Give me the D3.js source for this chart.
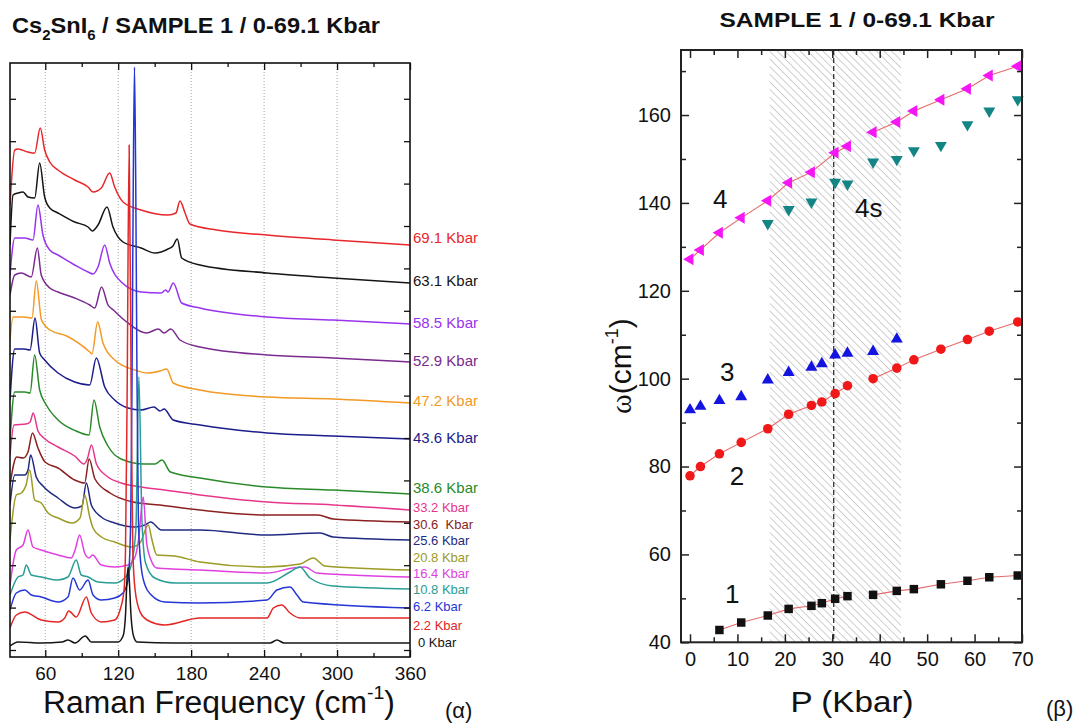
<!DOCTYPE html>
<html><head><meta charset="utf-8">
<script src="https://cdn.jsdelivr.net/npm/d3@7"></script>
<style>
body{margin:0;background:#fff;}
svg{display:block;}
text{font-family:"Liberation Sans",Arial,sans-serif;}
</style>
</head><body>
<svg id="c" width="1089" height="726"></svg>
<script>
// ---------------- DATA: panel (α) Raman spectra [frequency cm-1, intensity a.u. incl. stacking offset] -------------
const spec_69_1 = [[31,445],[34.9,500],[37.6,501],[45.8,498],[51.3,497],[55.9,522],[59.5,500],[63.7,488],[70.5,480],[84.2,470],[95.2,463],[99.3,458],[106.1,462],[113,477],[117.1,463],[124,448],[138.8,440],[161,435],[167.5,437],[170.8,449],[175,437],[179,426],[201,420],[242.4,415],[296.7,410],[360,405]];
const spec_63_1 = [[31,405],[33.5,455],[37.6,457],[41.7,458],[45.8,453],[51.3,452],[55.4,487],[59.5,453],[63.7,442],[70.5,437],[84.2,428],[95.2,423],[98.7,419],[103.4,425],[110.8,443],[115.7,423],[124,408],[138.8,402],[150.3,397],[161,401],[165,404],[168.6,411],[172.2,392],[187.3,385],[242.4,377],[296.7,372],[360,367]];
const spec_58_5 = [[31,375],[34.9,412],[43.1,412],[49.9,410],[54,445],[58.1,415],[63.7,400],[70.5,395],[84.2,385],[95.2,378],[99.3,376],[103.4,383],[108.9,405],[113,387],[122.5,368],[139,358],[155.4,357],[159,360],[161,358],[165.3,367],[172.2,347],[187.3,342],[242.4,333],[296.7,330],[360,326]];
const spec_52_9 = [[31,355],[34.9,375],[40.3,377],[48.5,373],[53.5,402],[56.7,375],[63.7,362],[70.5,358],[84.2,352],[96.6,345],[100.7,342],[106.3,363],[111.6,345],[116,340],[127,328],[143.4,317],[153,321],[157.7,317],[163.2,321],[170.8,310],[187.3,303],[242.4,295],[296.7,292],[360,288]];
const spec_47_2 = [[31,310],[33.5,333],[42.5,333],[49.1,332],[52.6,369],[56.9,330],[63.9,320],[77.6,314],[96.6,298],[98.4,296],[103.1,328],[107.5,307],[117.1,290],[133.6,280],[144.5,277],[154.4,279],[159.9,281],[165.3,267],[187.3,260],[242.4,253],[296.7,251],[360,247]];
const spec_43_6 = [[31,250],[34.9,301],[42.5,301],[47.5,300],[51.6,332],[55.4,297],[59.5,290],[70.5,277],[84.2,268],[96.6,265],[102,292],[108.9,263],[117.1,250],[128.1,242],[138.8,240],[149.4,243],[154.4,239],[157.7,241],[165.3,230],[187.3,225],[242.4,217],[296.7,214],[360,211]];
const spec_38_6 = [[31,210],[34.9,258],[43.1,258],[47.5,257],[51.3,295],[55.4,260],[60.9,245],[70.5,230],[85.3,219],[96,215],[100.1,250],[104.8,223],[111.6,204],[122.3,191],[141.2,186],[150.3,186],[156,190],[163,178],[187.3,172],[242.4,163],[296.7,160],[360,156]];
const spec_33_2 = [[31,195],[34.3,225],[44.2,226],[47.5,228],[50.1,237],[54,219],[59.8,211],[70.5,203],[84.2,194],[91.9,186],[94.6,191],[98,205],[102.1,186],[111.6,173],[122.5,167],[139,163],[158.2,160],[187.3,155],[242.4,148],[296.7,145],[360,140]];
const spec_30_6 = [[31,165],[36.5,193],[41.9,192],[45.8,198],[49.5,217],[54,202],[59.8,188],[70.5,182],[84.2,170],[92.4,167],[96.1,191],[100.9,171],[113.3,157],[132.4,148],[154.4,145],[187.3,140],[242.4,135],[284.3,135],[296.7,131],[360,128]];
const spec_25_6 = [[31,145],[34.9,175],[43.1,175],[45.8,180],[48,195],[52.6,173],[58.1,164],[70.5,152],[84.2,142],[90.2,144],[93.8,167],[97.9,145],[106.1,133],[117.1,127],[133.6,123],[142,125],[146.7,128],[155.5,120],[187.3,120],[242.4,115],[286,117],[296.7,113],[360,110]];
const spec_20_8 = [[31,110],[36.2,155],[40.3,157],[44.2,165],[47.2,180],[51.3,150],[56.7,147],[62.3,137],[70.5,132],[82,127],[88.6,132],[92.4,155],[96.6,133],[99.3,122],[106.1,113],[117.1,108],[130.8,103],[137.9,107],[144.7,125],[147.8,110],[151.7,95],[166.5,94],[187.3,88],[242.4,83],[269.5,86],[280.5,92],[290,84],[360,80]];
const spec_16_4 = [[31,65],[36.2,100],[41.7,105],[45.8,120],[49.9,103],[56.7,100],[70.5,95],[81.4,92],[84.5,100],[88.3,115],[92.4,97],[96,92],[98.9,95],[106.1,85],[117.1,83],[128.1,85],[133.8,93],[136.7,110],[140.6,153],[143.4,107],[147,90],[151.7,82],[187.3,80],[242.4,77],[264,82],[273.6,83],[283.3,77],[360,73]];
const spec_10_8 = [[31,55],[37.6,73],[41.7,75],[44.4,85],[48.5,75],[56.7,73],[70.5,70],[78.7,73],[85.5,90],[89.6,75],[95.2,73],[103.4,68],[117.1,67],[125.3,72],[130.5,84],[134.5,120],[137,273],[139.5,130],[142.5,87],[150,72],[166.5,67],[187.3,67],[242.4,67],[261.3,78],[269.5,83],[277.7,72],[296.7,64],[360,61]];
const spec_6_2 = [[31,40],[36.2,57],[43.1,60],[48.5,55],[56.7,53],[70.5,48],[78.7,53],[82.8,72],[88.3,60],[95.2,70],[99.3,55],[106.1,50],[117.1,52],[124,57],[128.1,70],[130.3,130],[131.4,280],[132.4,470],[133.4,583],[134.4,470],[135.4,280],[136.6,130],[138.7,85],[142,65],[147.2,55],[158.2,48],[187.3,47],[242.4,50],[250.6,60],[261.3,63],[267,55],[272.3,48],[360,42]];
const spec_2_2 = [[31,22],[36.2,35],[43.1,38],[56.7,30],[70.5,28],[76,32],[79.3,39],[85.5,33],[93.8,53],[97.9,37],[106.1,28],[117.1,30],[121.5,40],[124.8,60],[126,100],[127.3,250],[129,505],[130.7,250],[132,100],[133.9,60],[138,38],[143.7,30],[158.2,25],[187.3,32],[242.4,32],[247.6,42],[254.5,45],[261.3,37],[269.5,32],[360,32]];
const spec_0 = [[31,4],[37.6,8],[56.7,7],[73.8,8],[78.7,10],[84.5,7],[92.9,14],[97.9,8],[119.8,8],[124,14],[126,35],[127.2,70],[128.1,83],[129.1,70],[130.5,35],[132.6,14],[135.5,8],[166.5,7],[244.9,7],[250.6,10],[256.4,7],[360,7]];

const spectra = [spec_69_1,spec_63_1,spec_58_5,spec_52_9,spec_47_2,spec_43_6,spec_38_6,spec_33_2,spec_30_6,spec_25_6,spec_20_8,spec_16_4,spec_10_8,spec_6_2,spec_2_2,spec_0];
const pressureLabels = ["69.1 Kbar","63.1 Kbar","58.5 Kbar","52.9 Kbar","47.2 Kbar","43.6 Kbar","38.6 Kbar","33.2 Kbar","30.6  Kbar","25.6 Kbar","20.8 Kbar","16.4 Kbar","10.8 Kbar","6.2 Kbar","2.2 Kbar","0 Kbar"];
const labelLevels = [412,369,327,289,249,212,162,143,126,110,93,77,61,44,25,8];
const freqTicksMajor = [60,120,180,240,300,360];
const freqTicksMinor = [90,150,210,270,330];
const freqGrid = [60,120,180,240,300];

// ---------------- DATA: panel (β) mode frequencies vs pressure -------------
const P_mode1 = [6.2,10.8,16.4,20.8,25.6,27.8,30.6,33.2,38.6,43.6,47.2,52.9,58.5,63.1,69.1];
const w_mode1 = [42.8,44.5,46.1,47.6,48.3,48.9,49.9,50.5,50.8,51.7,52.1,53.2,54.0,54.8,55.2];
const P_mode2 = [0,2.2,6.2,10.8,16.4,20.8,25.6,27.8,30.6,33.2,38.6,43.6,47.2,52.9,58.5,63.1,69.1];
const w_mode2 = [77.9,80.0,82.9,85.5,88.6,91.9,93.9,94.7,96.6,98.4,100.0,102.4,104.3,106.7,108.9,110.8,112.9];
const P_mode3 = [0,2.2,6.2,10.8,16.4,20.8,25.6,27.8,30.6,33.2,38.6,43.6];
const w_mode3 = [92.9,93.7,95.0,95.9,99.7,101.4,102.6,103.4,105.4,105.8,106.2,109.0];
const P_mode4 = [0,2.2,6.2,10.8,16.4,20.8,25.6,30.6,33.2,38.6,43.6,47.2,52.9,58.5,63.1,69.1];
const w_mode4 = [127.2,129.3,133.2,136.6,140.5,144.6,147.0,151.4,152.9,156.1,158.4,160.9,163.5,166.0,169.0,171.1];
const P_mode4s = [16.4,20.8,25.6,30.6,33.2,38.6,43.6,47.2,52.9,58.5,63.1,69.1];
const w_mode4s = [135.3,138.5,140.2,144.7,144.3,149.3,149.9,151.9,153.1,157.8,160.9,163.5];
const transitionRange = [16.8,44.5];
const transitionP = 30.3;
const fitBreak = 35;
const pTicks = [0,10,20,30,40,50,60,70];
const pMinor = [5,15,25,35,45,55,65];
const wTicks = [40,60,80,100,120,140,160];
const wMinor = [50,70,90,110,130,150,170];
const annoText = ["4","4s","3","2","1"];
const annoAt = [[4.85,138.8],[34.8,136.9],[6.3,99.5],[8.4,75.8],[7.4,48.9]];

// ---------------- STYLES -------------
const specColors = ["#e8262b","#151515","#9933ee","#7a2b8e","#f39a26","#1c1c8c","#2a8a2a","#e6358b","#8b2020","#1f2a80","#9b9b25","#e040e0","#2a9d94","#2436d6","#e32626","#151515"];
const ink = "#111";

const svg = d3.select("#c");

// ================= Panel (α) =================
const xL = d3.scaleLinear().domain([31,360]).range([10,410]);
const yL = d3.scaleLinear().domain([-7,587]).range([657,63]);

const defs = svg.append("defs");
defs.append("clipPath").attr("id","clipL")
  .append("rect").attr("x",xL(31)).attr("y",yL(587)).attr("width",xL(360)-xL(31)).attr("height",yL(-7)-yL(587));

// grid
svg.append("g").selectAll("line").data(freqGrid).join("line")
  .attr("x1",d=>xL(d)).attr("x2",d=>xL(d)).attr("y1",yL(587)).attr("y2",yL(-7))
  .attr("stroke","#9a9a9a").attr("stroke-width",0.9).attr("stroke-dasharray","1,2");

// spectra
const lineL = d3.line().x(d=>xL(d[0])).y(d=>yL(d[1])).curve(d3.curveMonotoneX);
svg.append("g").attr("clip-path","url(#clipL)").selectAll("path").data(spectra).join("path")
  .attr("d",lineL).attr("fill","none").attr("stroke",(d,i)=>specColors[i]).attr("stroke-width",1.5).attr("stroke-linejoin","round");

// axes (α)
const intensityTicks = d3.range(0,587,42.4);
function styleAxis(g){ g.select(".domain").remove(); g.selectAll(".tick line").attr("stroke",ink).attr("stroke-width",1.3); }
svg.append("g").attr("transform",`translate(0,${yL(-7)})`)
  .call(d3.axisBottom(xL).tickValues(freqTicksMajor).tickSize(-7).tickPadding(10).tickFormat(d3.format("d")))
  .call(styleAxis).call(g=>g.selectAll("text").attr("font-size",19).attr("font-family","Liberation Sans, Arial, sans-serif").style("fill",ink));
svg.append("g").attr("transform",`translate(0,${yL(-7)})`)
  .call(d3.axisBottom(xL).tickValues(freqTicksMinor).tickSize(-4).tickFormat("")).call(styleAxis);
svg.append("g").attr("transform",`translate(0,${yL(587)})`)
  .call(d3.axisTop(xL).tickValues(freqTicksMajor).tickSize(-7).tickFormat("")).call(styleAxis);
svg.append("g").attr("transform",`translate(0,${yL(587)})`)
  .call(d3.axisTop(xL).tickValues(freqTicksMinor).tickSize(-4).tickFormat("")).call(styleAxis);
svg.append("g").attr("transform",`translate(${xL(31)},0)`)
  .call(d3.axisLeft(yL).tickValues(intensityTicks).tickSize(-6).tickFormat("")).call(styleAxis);
svg.append("g").attr("transform",`translate(${xL(360)},0)`)
  .call(d3.axisRight(yL).tickValues(intensityTicks).tickSize(-6).tickFormat("")).call(styleAxis);

svg.append("rect").attr("x",xL(31)).attr("y",yL(587)).attr("width",xL(360)-xL(31)).attr("height",yL(-7)-yL(587))
  .attr("fill","none").attr("stroke",ink).attr("stroke-width",1.6);

// pressure labels
svg.append("g").selectAll("text").data(pressureLabels).join("text")
  .attr("x",(d,i)=>xL(360)+(i===15?8:3))
  .attr("y",(d,i)=>yL(labelLevels[i]))
  .attr("dy","0.35em")
  .attr("font-size",(d,i)=>i<7?15:13)
  .style("fill",(d,i)=>specColors[i])
  .style("white-space","pre")
  .text(d=>d);

// title (α)
const tL = svg.append("text").attr("x",12).attr("y",33).attr("font-size",22).attr("font-weight","bold").style("fill",ink)
  .attr("textLength",368).attr("lengthAdjust","spacingAndGlyphs");
tL.append("tspan").text("Cs");
tL.append("tspan").attr("font-size",14).attr("dy",7).text("2");
tL.append("tspan").attr("dy",-7).text("SnI");
tL.append("tspan").attr("font-size",14).attr("dy",7).text("6");
tL.append("tspan").attr("dy",-7).text(" / SAMPLE 1 / 0-69.1 Kbar");

// x title (α)
const xtL = svg.append("text").attr("x",43).attr("y",713).attr("font-size",31).style("fill",ink)
  .attr("textLength",352).attr("lengthAdjust","spacingAndGlyphs");
xtL.append("tspan").text("Raman Frequency (cm");
xtL.append("tspan").attr("font-size",19).attr("dy",-14).text("-1");
xtL.append("tspan").attr("dy",14).text(")");

svg.append("text").attr("x",445).attr("y",718).attr("font-size",22).style("fill",ink)
  .attr("font-family","Noto Sans, DejaVu Sans, sans-serif").text("(α)");

// ================= Panel (β) =================
const xR = d3.scaleLinear().domain([-1.9,70]).range([681,1022]);
const yR = d3.scaleLinear().domain([40,174.8]).range([642.3,50]);

const pat = defs.append("pattern").attr("id","hatch").attr("patternUnits","userSpaceOnUse")
  .attr("width",5.4).attr("height",10).attr("patternTransform","rotate(-45)");
pat.append("line").attr("x1",0).attr("y1",-1).attr("x2",0).attr("y2",11).attr("stroke","#a8a8a8").attr("stroke-width",1.1);

svg.append("rect").attr("x",xR(transitionRange[0])).attr("y",yR(174.8))
  .attr("width",xR(transitionRange[1])-xR(transitionRange[0])).attr("height",yR(40)-yR(174.8))
  .attr("fill","url(#hatch)");

svg.append("line").attr("x1",xR(transitionP)).attr("x2",xR(transitionP)).attr("y1",yR(174.8)).attr("y2",yR(40))
  .attr("stroke","#222").attr("stroke-width",1.2).attr("stroke-dasharray","5,3");

// fit lines (two segments each)
const lineR = d3.line().x(d=>xR(d[0])).y(d=>yR(d[1]));
function segs(P,w){ const pts=P.map((p,i)=>[p,w[i]]); return [pts.filter(d=>d[0]<fitBreak), pts.filter(d=>d[0]>fitBreak)]; }
const fitSegments = [...segs(P_mode1,w_mode1), ...segs(P_mode2,w_mode2), ...segs(P_mode4,w_mode4)];
svg.append("g").selectAll("path").data(fitSegments).join("path")
  .attr("d",lineR).attr("fill","none").attr("stroke","#e56a6a").attr("stroke-width",1.1);

// markers
function markers(P,w,type,size,rot,color){
  svg.append("g").selectAll("path").data(P.map((p,i)=>[p,w[i]])).join("path")
    .attr("d",d3.symbol().type(type).size(size))
    .attr("transform",d=>`translate(${xR(d[0])},${yR(d[1])}) rotate(${rot})`)
    .attr("fill",color);
}
markers(P_mode4s,w_mode4s,d3.symbolTriangle,62,180,"#138585");
markers(P_mode3,w_mode3,d3.symbolTriangle,62,0,"#1414e0");
markers(P_mode4,w_mode4,d3.symbolTriangle,62,-90,"#f516f5");
markers(P_mode2,w_mode2,d3.symbolCircle,72,0,"#f01818");
markers(P_mode1,w_mode1,d3.symbolSquare,72,0,"#111");

// axes (β)
const fontR = g=>g.selectAll("text").attr("font-size",20).attr("font-family","Liberation Sans, Arial, sans-serif").style("fill",ink);
function styleAxisR(g){ g.select(".domain").remove(); g.selectAll(".tick line").attr("stroke","#222").attr("stroke-width",1.5); }
svg.append("g").attr("transform",`translate(0,${yR(40)})`)
  .call(d3.axisBottom(xR).tickValues(pTicks).tickSize(-8).tickPadding(10).tickFormat(d3.format("d"))).call(styleAxisR).call(fontR);
svg.append("g").attr("transform",`translate(0,${yR(40)})`)
  .call(d3.axisBottom(xR).tickValues(pMinor).tickSize(-5).tickFormat("")).call(styleAxisR);
svg.append("g").attr("transform",`translate(0,${yR(174.8)})`)
  .call(d3.axisTop(xR).tickValues(pTicks).tickSize(-8).tickFormat("")).call(styleAxisR);
svg.append("g").attr("transform",`translate(0,${yR(174.8)})`)
  .call(d3.axisTop(xR).tickValues(pMinor).tickSize(-5).tickFormat("")).call(styleAxisR);
svg.append("g").attr("transform",`translate(${xR(-1.9)},0)`)
  .call(d3.axisLeft(yR).tickValues(wTicks).tickSize(-8).tickPadding(10).tickFormat(d3.format("d"))).call(styleAxisR).call(fontR);
svg.append("g").attr("transform",`translate(${xR(-1.9)},0)`)
  .call(d3.axisLeft(yR).tickValues(wMinor).tickSize(-5).tickFormat("")).call(styleAxisR);
svg.append("g").attr("transform",`translate(${xR(70)},0)`)
  .call(d3.axisRight(yR).tickValues(wTicks).tickSize(-8).tickFormat("")).call(styleAxisR);
svg.append("g").attr("transform",`translate(${xR(70)},0)`)
  .call(d3.axisRight(yR).tickValues(wMinor).tickSize(-5).tickFormat("")).call(styleAxisR);

svg.append("rect").attr("x",xR(-1.9)).attr("y",yR(174.8)).attr("width",xR(70)-xR(-1.9)).attr("height",yR(40)-yR(174.8))
  .attr("fill","none").attr("stroke","#222").attr("stroke-width",2);

// annotations
svg.append("g").selectAll("text").data(annoText).join("text")
  .attr("x",(d,i)=>xR(annoAt[i][0])).attr("y",(d,i)=>yR(annoAt[i][1]))
  .attr("font-size",26).style("fill",ink).text(d=>d);

// titles (β)
svg.append("text").attr("x",857).attr("y",27).attr("text-anchor","middle").attr("font-size",20).attr("font-weight","bold").style("fill",ink)
  .attr("textLength",275).attr("lengthAdjust","spacingAndGlyphs").text("SAMPLE 1 / 0-69.1 Kbar");
svg.append("text").attr("x",852).attr("y",712).attr("text-anchor","middle").attr("font-size",30).style("fill",ink)
  .attr("textLength",123).attr("lengthAdjust","spacingAndGlyphs").text("P (Kbar)");
const yt = svg.append("text").attr("transform","translate(631,366) rotate(-90)").attr("text-anchor","middle").attr("font-size",30).style("fill",ink);
yt.append("tspan").attr("font-family","Liberation Serif, serif").text("ω");
yt.append("tspan").text("(cm");
yt.append("tspan").attr("font-size",18).attr("dy",-13).text("-1");
yt.append("tspan").attr("dy",13).text(")");
svg.append("text").attr("x",1046).attr("y",716).attr("font-size",22).style("fill",ink)
  .attr("font-family","Noto Sans, DejaVu Sans, sans-serif").text("(β)");
</script>
</body></html>
